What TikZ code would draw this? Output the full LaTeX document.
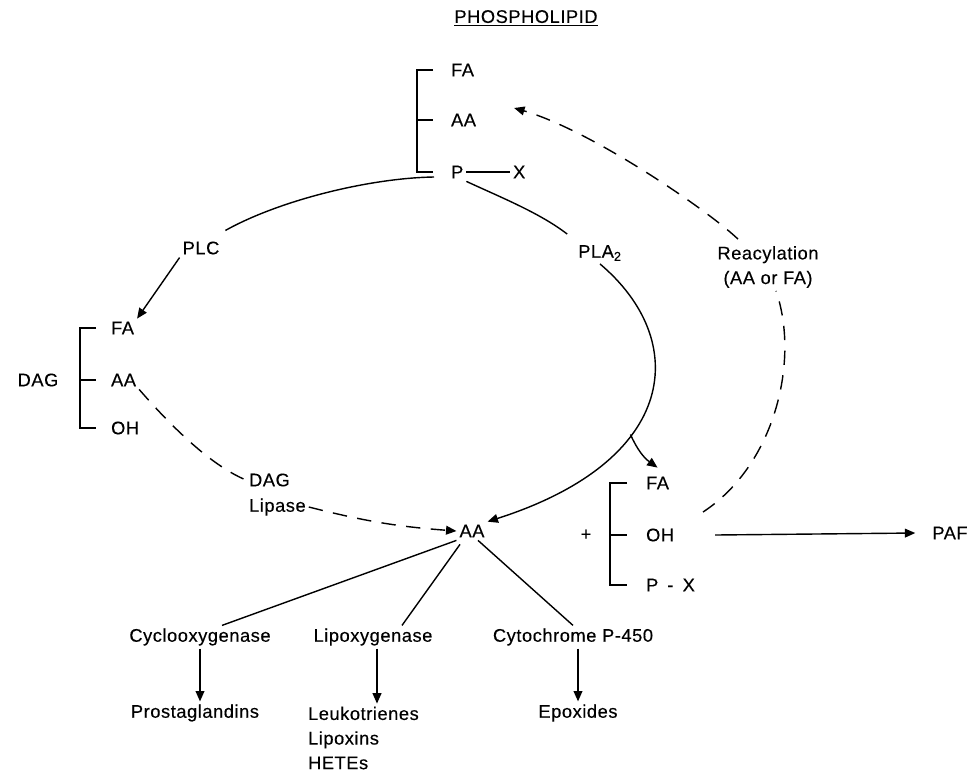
\documentclass[tikz,border=0pt]{standalone}
\usepackage{fontspec}
\setmainfont{Liberation Sans}[LetterSpace=3.0, FakeBold=0.3]
\usetikzlibrary{arrows.meta, positioning, calc}

\begin{document}
\begin{tikzpicture}[
    x=0.025cm, y=-0.025cm,
    label_txt/.style={font=\fontsize{13}{17.5}\selectfont, inner sep=2pt},
    item/.style={label_txt, anchor=west},
    bracket/.style={line width=1pt},
    link/.style={line width=1pt},
    arrow/.style={-{Triangle[length=2.6mm, width=2.2mm]}, line width=1pt},
    dashline/.style={line width=1pt, dash pattern=on 3.6mm off 2.6mm},
    dasharrow/.style={dashline, -{Triangle[length=2.6mm, width=2.2mm]}}
]
    \useasboundingbox (0,0) rectangle (971,772);

    % ========== TOP: phospholipid ==========
    \node[label_txt] (title) at (526,18) {\underline{PHOSPHOLIPID}};

    \node[item] (ph_fa) at (448,70) {FA};
    \node[item] (ph_aa) at (448,120) {AA};
    \node[item] (ph_p) at (448,172) {P};
    \node[item] (ph_x) at (510,172) {X};
    \draw[bracket] (433,70) -- (417,70) -- (417,172) -- (433,172);
    \draw[bracket] (417,120) -- (433,120);
    \draw[link] (ph_p) -- (ph_x);
    \coordinate (ph_base) at (434,177);

    % ========== LEFT: PLC -> DAG ==========
    \node[label_txt] (plc) at (201,248) {PLC};

    \node[label_txt] (dag) at (38,380) {DAG};
    \node[item] (dag_fa) at (108,328) {FA};
    \node[item] (dag_aa) at (108,380) {AA};
    \node[item] (dag_oh) at (108,428) {OH};
    \draw[bracket] (96,328) -- (80,328) -- (80,428) -- (96,428);
    \draw[bracket] (80,380) -- (96,380);

    \draw[link] (ph_base) .. controls (370,178) and (280,200) .. ($(plc.north east)+(3,-8)$);
    \draw[arrow] (plc.south west) -- (dag_fa.north east);

    % DAG lipase
    \node[item] (lip_dag) at (246,480) {DAG};
    \node[item] (lip_name) at (246,507) {Lipase};

    % ========== CENTRE: AA ==========
    \node[label_txt] (aa) at (472,531) {AA};

    \draw[dashline] (dag_aa.south east) .. controls (170,425) and (210,465) .. (lip_dag.west);
    \draw[dasharrow] (lip_name.east) to[bend right=5] (aa.west);

    % ========== RIGHT: PLA2 ==========
    \node[label_txt] (pla) at (600,253) {PLA\textsubscript{2}};

    \node[item] (ly_fa) at (643,483) {FA};
    \node[item] (ly_oh) at (643,535) {OH};
    \node[item] (ly_px) at (643,585) {P\enspace-\enspace X};
    \node[label_txt] (plus) at (586,535) {+};
    \draw[bracket] (627,483) -- (610,483) -- (610,585) -- (627,585);
    \draw[bracket] (610,535) -- (627,535);

    \draw[link] (ph_p.south east) .. controls (500,197) and (540,213) .. ($(pla.north west)+(-8,-8)$);
    \draw[arrow] (pla.south) .. controls (690,340) and (680,460) .. (aa.north east)
        coordinate[pos=0.63] (pla_split);
    \draw[arrow] (pla_split) to[bend right=15] ($(ly_fa.north)+(0,-6)$);

    % PAF
    \node[label_txt] (paf) at (950,533) {PAF};
    \draw[arrow] ($(ly_oh.east)+(38,0)$) -- ($(paf.west)+(-14,0)$);

    % Reacylation
    \node[label_txt, align=center] (reacyl) at (768,267) {Reacylation\\(AA or FA)};
    \coordinate (reacyl_start) at (703,512);
    \draw[dashline] (reacyl_start) .. controls (775,465) and (800,360) .. ($(reacyl.south)+(8,0)$);
    \draw[dasharrow] ($(reacyl.north)+(-30,-4)$) .. controls (705,208) and (590,130) .. ($(ph_aa.east)+(35,-12)$);

    % ========== BOTTOM: AA metabolism ==========
    \node[label_txt] (cox) at (200,637) {Cyclooxygenase};
    \node[label_txt] (lox) at (373,637) {Lipoxygenase};
    \node[label_txt] (cyp) at (573,637) {Cytochrome P-450};

    \node[label_txt] (pg) at (195,713) {Prostaglandins};
    \node[item, align=left] (lt) at (305,738) {Leukotrienes\\Lipoxins\\HETEs};
    \node[label_txt] (epox) at (578,713) {Epoxides};

    \draw[link] (aa.south west) -- ($(cox.north)+(22,0)$);
    \draw[link] ($(aa.south)+(-12,4)$) -- ($(lox.north)+(29,0)$);
    \draw[link] ($(aa.south)+(6,0)$) -- (cyp.north);

    \coordinate (cox_out) at (cox.south);
    \coordinate (lox_out) at ($(lox.south)+(4,0)$);
    \coordinate (cyp_out) at ($(cyp.south)+(5,0)$);
    \draw[arrow] (cox_out) -- (cox_out |- pg.north);
    \draw[arrow] (lox_out) -- (lox_out |- lt.north);
    \draw[arrow] (cyp_out) -- (cyp_out |- epox.north);

\end{tikzpicture}
\end{document}
